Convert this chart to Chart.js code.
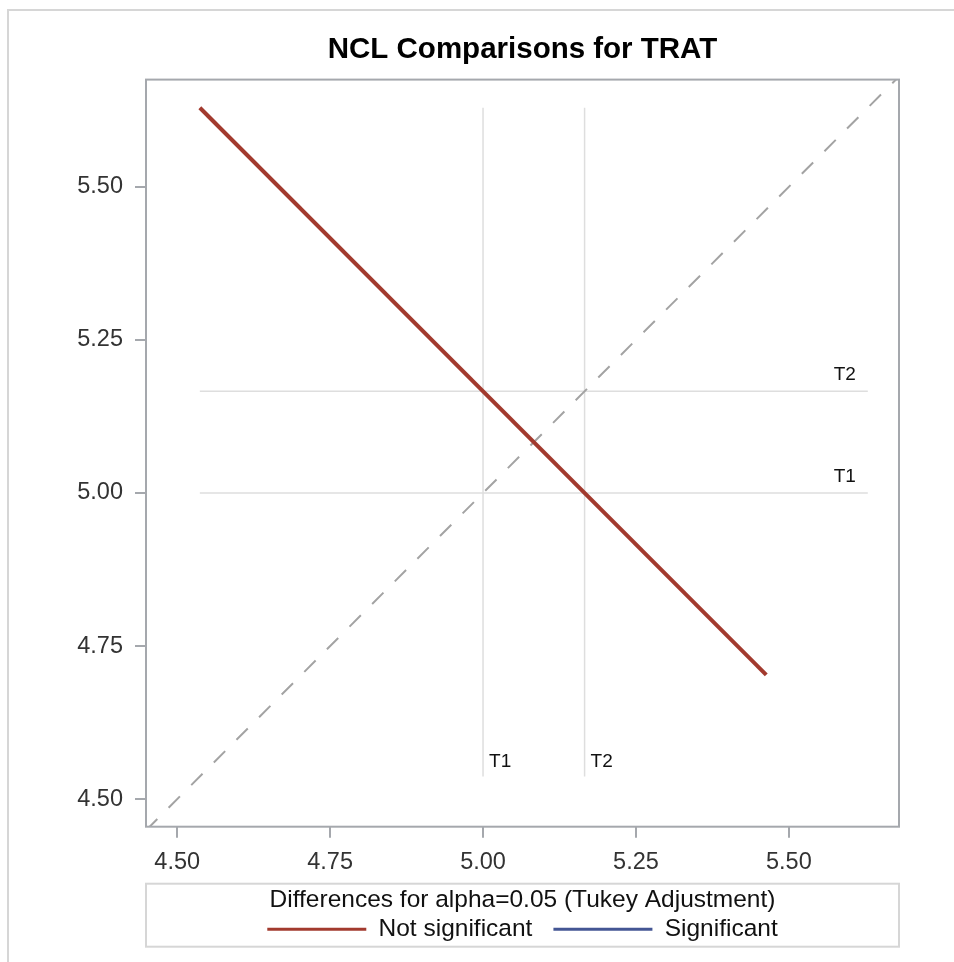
<!DOCTYPE html>
<html>
<head>
<meta charset="utf-8">
<title>NCL Comparisons for TRAT</title>
<script src="https://cdn.jsdelivr.net/npm/chart.js@4"></script>
<style>
  html, body { margin: 0; padding: 0; background: #fff; overflow: hidden; }
  #page { position: absolute; left: 0; top: 0; width: 954px; height: 962px; }
  #edge { position: absolute; left: 7px; top: 9px; width: 1200px; height: 1200px;
          border-left: 2px solid #d6d6d6; border-top: 2px solid #d6d6d6; }
  canvas { position: absolute; left: 0; top: 0; }
</style>
</head>
<body>
<div id="page">
  <div id="edge"></div>
  <canvas id="diffogram" width="954" height="962"></canvas>
</div>
<script>
// groups and their LS-means
const groups = ['T1', 'T2'];
const lsmeans = [5.000, 5.166];

// T1 vs T2 difference segment (ends of the confidence interval)
const segX = [4.537, 5.463];
const segY = [5.629, 4.703];

// reference lines span this range
const refRange = [4.537, 5.629];

const xTicks = [4.50, 4.75, 5.00, 5.25, 5.50];
const yTicks = [4.50, 4.75, 5.00, 5.25, 5.50];
const xRange = [4.449, 5.680];
const yRange = [4.455, 5.675];

const RED = '#A23A2E';
const BLUE = '#445694';
const AXIS = '#a5a8ad';

Chart.defaults.font.family = '"Liberation Sans", Arial, Helvetica, sans-serif';

const refSets = [];
groups.forEach(function (g, i) {
    refSets.push({
        label: g + ' v',
        data: [{ x: lsmeans[i], y: refRange[0] }, { x: lsmeans[i], y: refRange[1] }],
        borderColor: '#dedede', borderWidth: 1.5, pointRadius: 0, showLine: true
    });
    refSets.push({
        label: g + ' h',
        data: [{ x: refRange[0], y: lsmeans[i] }, { x: refRange[1], y: lsmeans[i] }],
        borderColor: '#dedede', borderWidth: 1.5, pointRadius: 0, showLine: true
    });
});

const datasets = [
    {
        label: 'Not significant',
        data: segX.map(function (x, i) { return { x: x, y: segY[i] }; }),
        borderColor: RED, backgroundColor: RED, borderWidth: 4, pointRadius: 0, showLine: true
    },
    {
        label: 'Significant',
        data: [],
        borderColor: BLUE, backgroundColor: BLUE, borderWidth: 4, pointRadius: 0, showLine: true
    },
    {
        label: 'diagonal',
        data: [{ x: xRange[0], y: xRange[0] }, { x: xRange[1], y: xRange[1] }],
        borderColor: '#a3a3a3', borderWidth: 2, borderDash: [16, 16], pointRadius: 0, showLine: true
    }
].concat(refSets);

const extras = {
    id: 'extras',
    afterLayout: function (chart) {
        // centre title and legend over the plot area, like the original
        const a = chart.chartArea;
        chart.titleBlock.left = a.left;
        chart.titleBlock.right = a.right;
        chart.legend.left = a.left;
        chart.legend.right = a.right;
    },
    afterDraw: function (chart) {
        const ctx = chart.ctx;
        const a = chart.chartArea;
        const xs = chart.scales.x, ys = chart.scales.y;
        ctx.save();
        // plot frame
        ctx.strokeStyle = AXIS;
        ctx.lineWidth = 2;
        ctx.strokeRect(a.left, a.top, a.right - a.left, a.bottom - a.top);
        // legend frame
        const lg = chart.legend;
        ctx.strokeStyle = '#d6d6d6';
        ctx.strokeRect(a.left, lg.top, a.right - a.left, 63);
        // reference line labels
        ctx.fillStyle = '#111';
        ctx.font = '19px "Liberation Sans", Arial, sans-serif';
        ctx.textBaseline = 'alphabetic';
        groups.forEach(function (g, i) {
            ctx.textAlign = 'left';
            ctx.fillText(g, xs.getPixelForValue(lsmeans[i]) + 6, ys.getPixelForValue(refRange[0]) - 9);
            ctx.textAlign = 'right';
            ctx.fillText(g, xs.getPixelForValue(refRange[1]) - 12, ys.getPixelForValue(lsmeans[i]) - 11);
        });
        ctx.restore();
    }
};

function axisOptions(range, ticks, isX) {
    return {
        type: 'linear',
        min: range[0],
        max: range[1],
        afterBuildTicks: function (scale) {
            scale.ticks = ticks.map(function (v) { return { value: v }; });
        },
        afterFit: function (scale) {
            if (isX) scale.height = 57; else scale.width = 146;
        },
        border: { display: false },
        grid: {
            drawOnChartArea: false, drawTicks: true, tickLength: 11,
            color: AXIS, lineWidth: 2
        },
        ticks: {
            padding: isX ? 11 : 12,
            color: '#333',
            font: { size: 23.5 },
            callback: function (v) { return Number(v).toFixed(2); }
        }
    };
}

new Chart(document.getElementById('diffogram').getContext('2d'), {
    type: 'scatter',
    data: { datasets: datasets },
    plugins: [extras],
    options: {
        responsive: false,
        animation: false,
        layout: { padding: { top: 31.9, left: 0, right: 55, bottom: 10.6 } },
        scales: {
            x: axisOptions(xRange, xTicks, true),
            y: axisOptions(yRange, yTicks, false)
        },
        plugins: {
            tooltip: { enabled: false },
            title: {
                display: true,
                text: 'NCL Comparisons for TRAT',
                color: '#000',
                font: { size: 29.5, weight: 'bold' },
                padding: { top: 0, bottom: 12.3 }
            },
            legend: {
                display: true,
                position: 'bottom',
                align: 'center',
                labels: {
                    boxWidth: 99,
                    boxHeight: 3,
                    padding: 21,
                    font: { size: 24.5 },
                    generateLabels: function (chart) {
                        return chart.data.datasets.slice(0, 2).map(function (ds, i) {
                            return {
                                text: ds.label, fillStyle: ds.borderColor, strokeStyle: ds.borderColor,
                                lineWidth: 0, hidden: false, datasetIndex: i, fontColor: '#111'
                            };
                        });
                    }
                },
                title: {
                    display: true,
                    text: 'Differences for alpha=0.05 (Tukey Adjustment)',
                    color: '#111',
                    font: { size: 24.5, lineHeight: '8.4px' },
                    padding: { top: 3.8, bottom: 0 }
                }
            }
        }
    }
});
</script>
</body>
</html>
